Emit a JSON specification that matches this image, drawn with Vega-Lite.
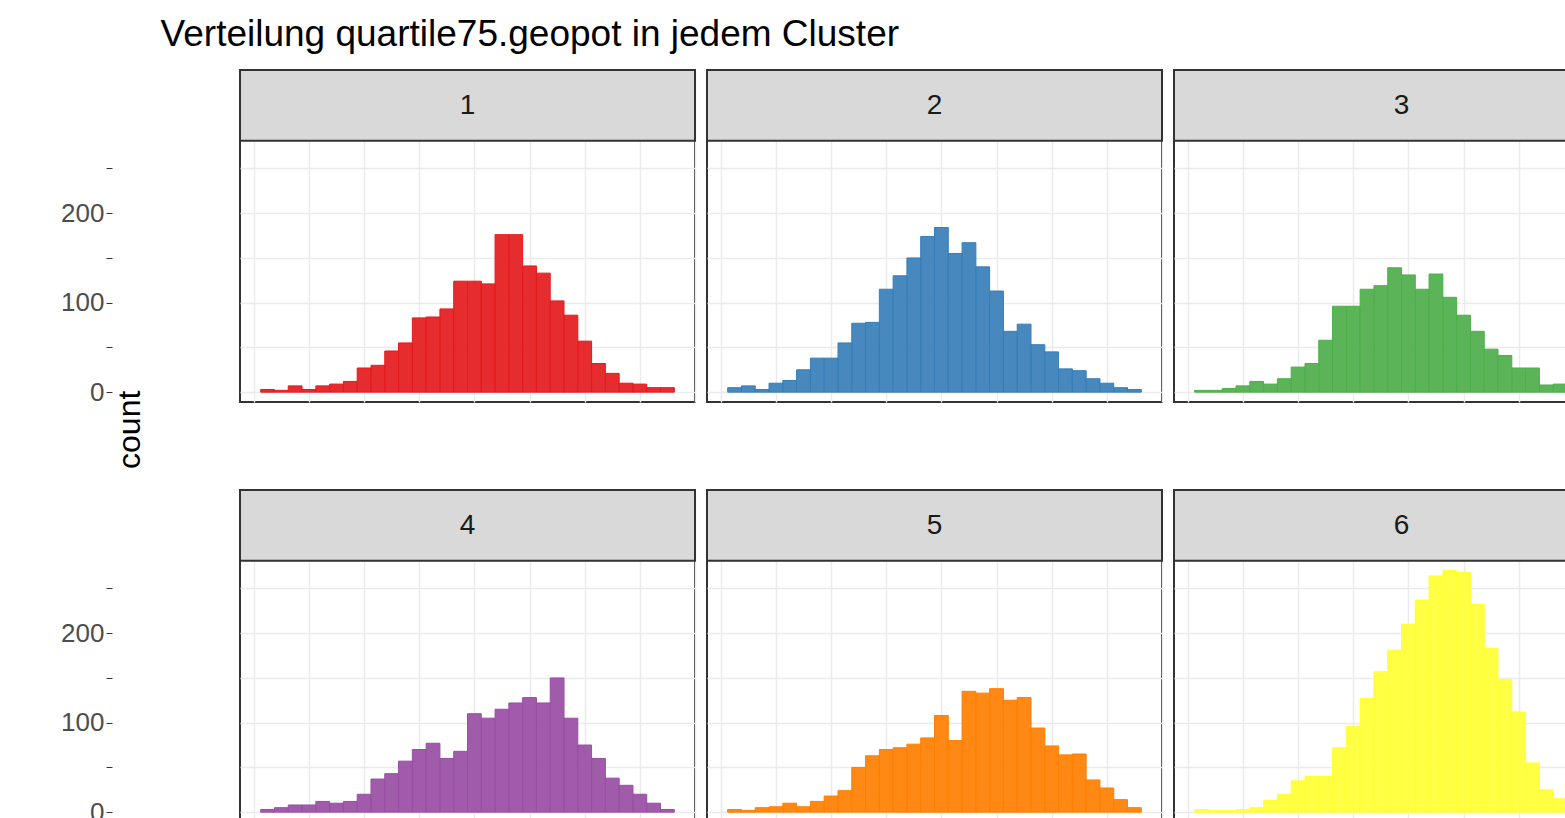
{
  "$schema": "https://vega.github.io/schema/vega-lite/v6.json",
  "title": {"text": "Verteilung quartile75.geopot in jedem Cluster", "anchor": "start", "fontSize": 37, "font": "Liberation Sans", "fontWeight": "normal", "color": "black", "offset": 14, "dx": 100},
  "padding": {"left": 60, "top": 16, "right": 20, "bottom": 10},
  "datasets": {
    "h": [
      {"c":"1","n":[3,2,7,3,7,9,12,27,30,46,55,83,84,93,124,124,121,176,176,141,133,102,86,57,32,21,10,9,5,5]},
      {"c":"2","n":[5,7,3,10,13,25,38,38,55,77,78,115,130,150,174,184,155,167,140,113,68,76,53,45,26,24,15,10,5,3]},
      {"c":"3","n":[2,2,4,7,12,9,15,28,32,58,96,96,115,119,139,131,115,132,106,86,68,48,41,27,27,8,9,6,5,3]},
      {"c":"4","n":[3,5,8,8,12,10,12,20,37,43,57,70,77,60,68,110,105,115,122,128,122,150,105,75,60,38,30,20,10,3]},
      {"c":"5","n":[3,2,5,6,10,6,12,18,24,50,63,70,72,76,83,108,80,135,133,138,125,128,94,74,64,65,36,27,14,5]},
      {"c":"6","n":[3,2,2,3,5,13,20,35,40,40,72,96,127,157,181,210,237,264,270,268,232,183,148,112,55,25,15,12,5,3]}
    ]
  },
  "data": {"name": "h"},
  "transform": [
    {"flatten": ["n"]},
    {"window": [{"op": "row_number", "as": "r"}], "groupby": ["c"]},
    {"calculate": "datum.r - 1", "as": "i"},
    {"calculate": "datum.r", "as": "i2"}
  ],
  "facet": {"field": "c", "type": "nominal", "header": {"title": null, "labels": false, "labelFontSize": 0, "labelPadding": 0}},
  "columns": 3,
  "spacing": {"column": 8, "row": 18},
  "spec": {
    "width": 455,
    "height": 332,
    "layer": [
      {
        "mark": {"type": "bar", "fillOpacity": 0.92, "strokeWidth": 1},
        "encoding": {
          "x": {"field": "i", "type": "quantitative", "scale": {"domain": [-1.5, 31.5], "nice": false, "zero": false},
                "axis": {"title": null, "labels": false, "ticks": false, "domain": false, "values": [-0.5,1.5,3.5,5.5,7.5,9.5,11.5,13.5,15.5,17.5,19.5,21.5,23.5,25.5,27.5,29.5,31.5], "gridColor": "#ebebeb", "gridWidth": 1.5}},
          "x2": {"field": "i2"},
          "y": {"field": "n", "type": "quantitative", "scale": {"domain": [-11, 360], "nice": false, "zero": false},
                "axis": {"title": null, "values": [0,50,100,150,200,250], "labelExpr": "datum.value % 100 == 0 ? datum.value : ''", "labelFontSize": 26, "labelColor": "#4d4d4d", "labelFont": "Liberation Sans", "tickColor": "#333333", "tickSize": 6, "domain": false, "gridColor": "#ebebeb", "gridWidth": 1.5}},
          "y2": {"datum": 0},
          "color": {"field": "c", "type": "nominal", "legend": null,
                    "scale": {"domain": ["1","2","3","4","5","6"], "range": ["#E41A1C","#377EB8","#4DAF4A","#984EA3","#FF7F00","#FFFF33"]}},
          "stroke": {"field": "c", "type": "nominal", "legend": null,
                    "scale": {"domain": ["1","2","3","4","5","6"], "range": ["#E41A1C","#377EB8","#4DAF4A","#984EA3","#FF7F00","#FFFF33"]}}
        }
      },
      {
        "transform": [{"aggregate": [{"op": "count", "as": "k"}], "groupby": ["c"]}],
        "mark": {"type": "rect", "fill": "#d9d9d9", "stroke": "#333333", "strokeWidth": 2},
        "encoding": {"x": {"datum": -1.5}, "x2": {"datum": 31.5}, "y": {"datum": 281}, "y2": {"datum": 360}}
      },
      {
        "transform": [{"aggregate": [{"op": "count", "as": "k"}], "groupby": ["c"]}],
        "mark": {"type": "text", "fontSize": 28, "font": "Liberation Sans", "color": "#1a1a1a", "baseline": "middle"},
        "encoding": {"x": {"datum": 15}, "y": {"datum": 320}, "text": {"field": "c"}}
      },
      {
        "transform": [{"aggregate": [{"op": "count", "as": "k"}], "groupby": ["c"]}, {"filter": "datum.c == '1'"}],
        "mark": {"type": "text", "fontSize": 32, "font": "Liberation Sans", "color": "black", "angle": 270, "baseline": "middle", "dx": -9, "clip": false},
        "encoding": {"x": {"datum": -9.5}, "y": {"datum": -32}, "text": {"value": "count"}}
      }
    ]
  },
  "config": {"view": {"stroke": "#333333", "strokeWidth": 2}, "background": "white", "header": {"labels": false, "labelFontSize": 0}}
}
